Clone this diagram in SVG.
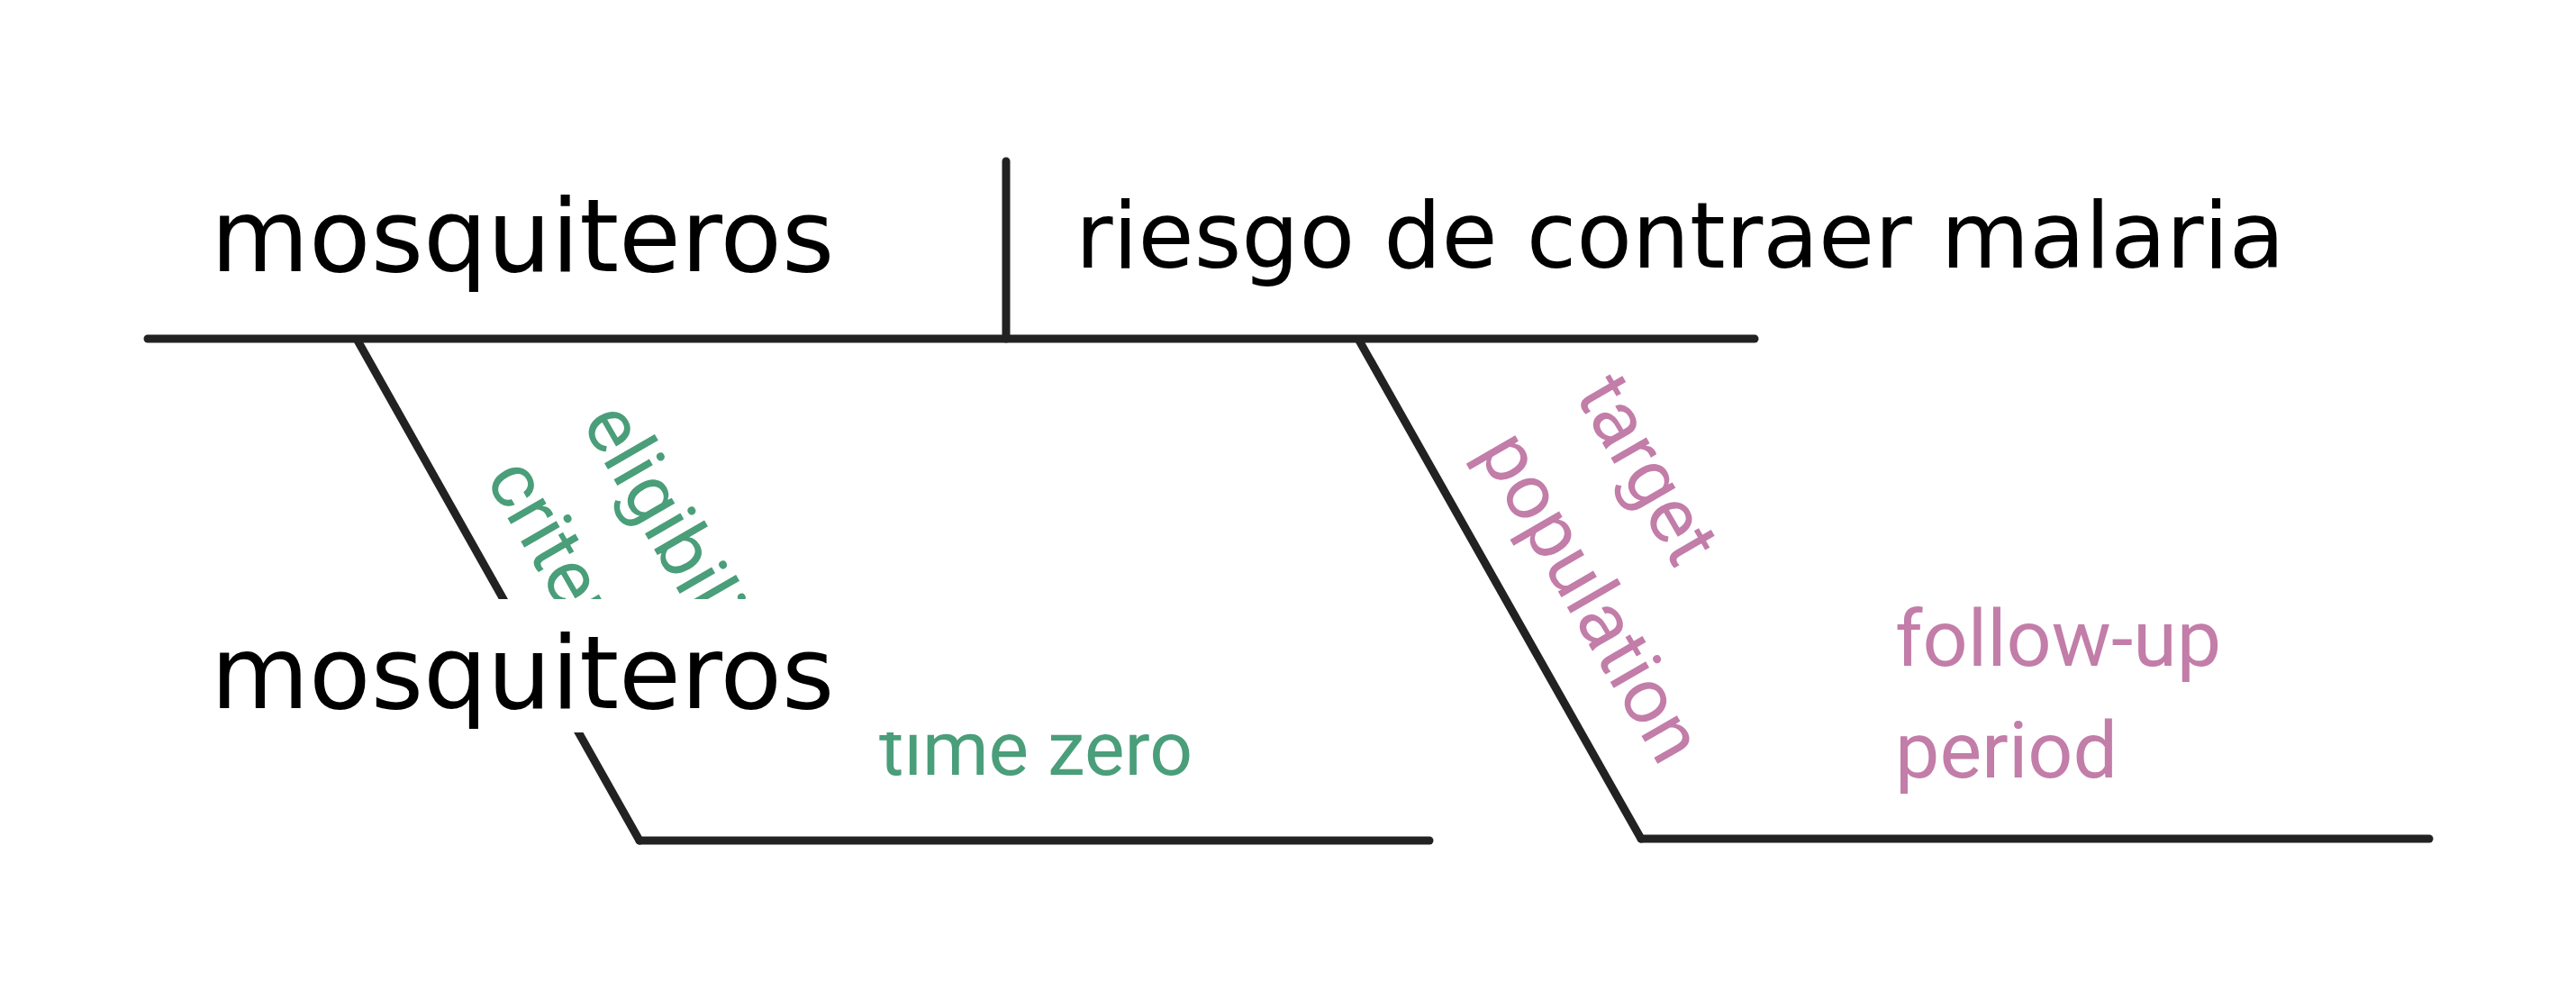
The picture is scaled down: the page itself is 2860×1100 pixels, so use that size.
<svg xmlns="http://www.w3.org/2000/svg" width="2860" height="1100" viewBox="0 0 2860 1100">
<style>
.ln{stroke:#222222;stroke-width:9;stroke-linecap:round;fill:none}
.big{font-family:"DejaVu Sans",sans-serif;fill:#000000}
.lbl{font-family:Roboto,"Liberation Sans",sans-serif}
.g{fill:#4a9e7a}
.p{fill:#c27da8}
</style>
<rect width="2860" height="1100" fill="#ffffff"/>
<g id="connectors">
<line class="ln" x1="164" y1="376" x2="1948" y2="376"/>
<line class="ln" x1="1117" y1="179" x2="1117" y2="376"/>
<line class="ln" x1="397" y1="378" x2="710" y2="933"/>
<line class="ln" x1="710" y1="933" x2="1587" y2="933"/>
<line class="ln" x1="1509" y1="378" x2="1822" y2="931"/>
<line class="ln" x1="1822" y1="931" x2="2697" y2="931"/>
</g>
<g id="node-exposure">
<text class="big" x="234" y="301" font-size="112">mosquiteros</text>
</g>
<g id="node-outcome">
<text class="big" x="1194" y="297" font-size="101">riesgo de contraer malaria</text>
</g>
<g id="label-eligibility">
<text class="lbl g" font-size="86" transform="translate(645,469) rotate(60)">eligibility</text>
<text class="lbl g" font-size="86" transform="translate(538,531) rotate(60)">criteria</text>
</g>
<g id="label-time-zero">
<text class="lbl g" x="976" y="860" font-size="84">time zero</text>
</g>
<g id="label-target">
<text class="lbl p" font-size="86" transform="translate(1748,438) rotate(60)">target</text>
<text class="lbl p" font-size="86" transform="translate(1640,501) rotate(60)">population</text>
</g>
<g id="label-follow-up">
<text class="lbl p" x="2104" y="739" font-size="88">follow-up</text>
<text class="lbl p" x="2104" y="863" font-size="88">period</text>
</g>
<g id="node-exposure-2">
<rect x="222" y="665" width="860" height="148" fill="#ffffff"/>
<text class="big" x="234" y="786" font-size="112">mosquiteros</text>
</g>
</svg>
